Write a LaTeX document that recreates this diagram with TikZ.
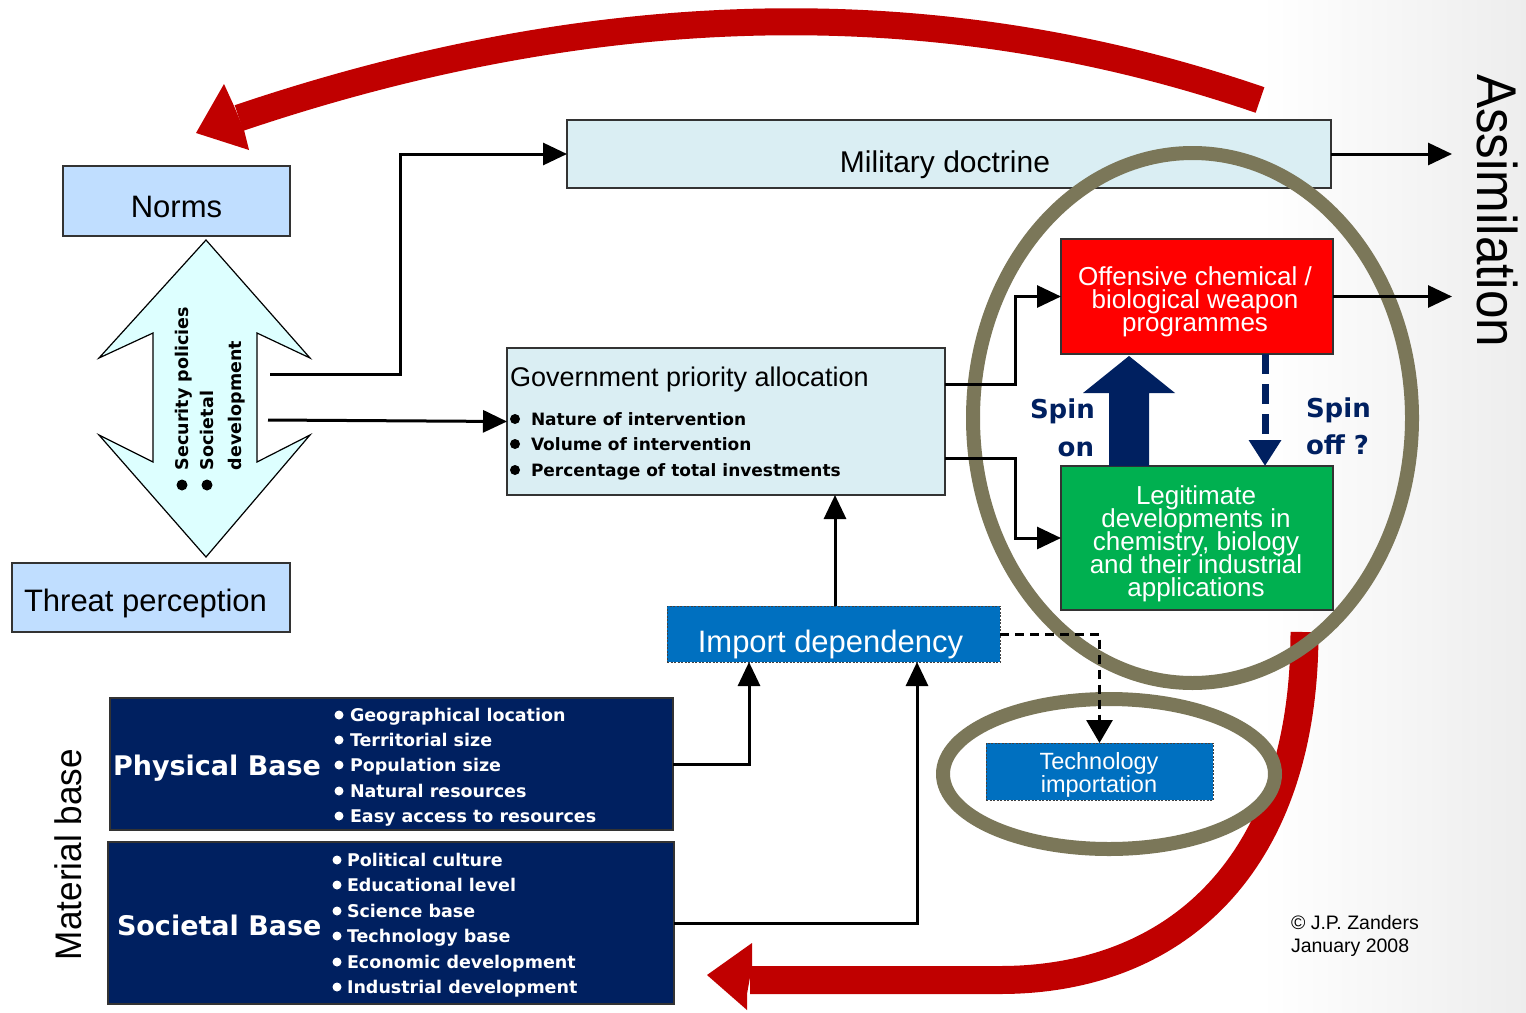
\documentclass[tikz,border=0pt]{standalone}
\usepackage{fontspec}
\setmainfont{Liberation Sans}
\newfontfamily\heavyfont{DejaVu Sans}
\usetikzlibrary{arrows.meta,calc}
\definecolor{redband}{HTML}{C00000}
\definecolor{navyc}{HTML}{002060}
\definecolor{impc}{HTML}{0070C0}
\definecolor{normc}{HTML}{C0DEFF}
\definecolor{milc}{HTML}{DAEEF3}
\definecolor{dblc}{HTML}{DDFFFF}
\definecolor{redc}{HTML}{FF0000}
\definecolor{greenc}{HTML}{00B050}
\definecolor{ellc}{HTML}{7B7759}
\newcommand\fsz[2]{\fontsize{#1}{#2}\selectfont}
\newcommand\tightl{\lineskiplimit=-50pt\relax}
\begin{document}
\begin{tikzpicture}[x=1pt,y=-1pt,
  boxbase/.style={draw=black!80, line width=1.2pt, inner sep=0pt, outer sep=0pt},
  dotbox/.style={draw=black!75, line width=1pt, dash pattern=on 2pt off 1.5pt, inner sep=0pt, outer sep=0pt, fill=impc},
  conn/.style={draw=black, line width=3pt},
  tipb/.style={-{Triangle[length=24pt,width=22pt]}},
  lbl/.style={inner sep=0pt, outer sep=0pt},
  heavy/.style={lbl, font=\heavyfont\bfseries},
  ell/.style={draw=ellc, line width=14pt}
]
\useasboundingbox (0,0) rectangle (1526,1012);
\fill[white] (0,0) rectangle (1526,1012);
\shade[left color=white, right color=black!7] (1260,0) rectangle (1526,1012);

% red curved arrows
\draw[redband, line width=27pt] (1260,100) .. controls (940,-10) and (600,-4) .. (239,118);
\fill[redband] (224,84) -- (196,133) -- (249,150) -- (244,130) -- (234,106) -- cycle;
\draw[redband, line width=28pt] (1304.5,632) .. controls (1304.5,860) and (1180,980) .. (1000,980) -- (750,980);
\fill[redband] (752,943) -- (707,975) -- (747,1010) -- (747,994) -- (752,966) -- cycle;

% double arrow
\draw[black, line width=1.2pt, fill=dblc] (206,240) -- (310,358) -- (257,333) -- (257,462) -- (310,435) -- (206,557) -- (99,435) -- (153,462) -- (153,333) -- (99,358) -- cycle;
\fill (182,485) circle (5.5pt);
\fill (207,485) circle (5.5pt);
\node[heavy, rotate=90, anchor=base west] (tsec) at (188,470) {\fsz{17.5}{17.5}Security policies};
\node[heavy, rotate=90, anchor=base west] (tsoc) at (213,470) {\fsz{17.5}{17.5}Societal};
\node[heavy, rotate=90, anchor=base west] (tdev) at (241,470) {\fsz{17.5}{17.5}development};
\coordinate (dA) at (270,374);
\coordinate (dB) at (268,420);

% boxes
\node[boxbase, fill=normc, minimum width=227pt, minimum height=70pt] (norms) at (176.5,201) {};
\node[lbl, anchor=base] (tnorms) at (176.5,217) {\fsz{31}{31}Norms};
\node[boxbase, fill=normc, minimum width=278pt, minimum height=69pt] (threat) at (151,597.5) {};
\node[lbl, anchor=base west] (tthreat) at (24,611) {\fsz{31}{31}Threat perception};

\node[boxbase, fill=milc, minimum width=764pt, minimum height=68pt] (mil) at (949,154) {};
\node[lbl, anchor=base] (tmil) at (945,172) {\fsz{30}{30}Military doctrine};

\node[boxbase, fill=milc, minimum width=438pt, minimum height=147pt] (gov) at (726,421.5) {};
\node[lbl, anchor=base west] (tgov) at (510,386) {\fsz{27}{27}Government priority allocation};
\foreach \yy/\tx [count=\i] in {425/Nature of intervention,450/Volume of intervention,476/Percentage of total investments}{
  \fill (515,\yy-6) circle (5pt);
  \node[heavy, anchor=base west] (gi\i) at (531,\yy) {\fsz{17}{17}\tx};
}

\node[boxbase, fill=redc, minimum width=272pt, minimum height=115pt] (red) at (1197,296.5) {};
\node[lbl, align=center, text=white, font={\fsz{26}{23}\tightl}] (tred) at (1195,302) {Offensive chemical /\\biological weapon\\programmes};
\node[boxbase, fill=greenc, minimum width=272pt, minimum height=144pt] (green) at (1197,538) {};
\node[lbl, align=center, text=white, font={\fsz{26}{23}\tightl}] (tgreen) at (1196,543.5) {Legitimate\\developments in\\chemistry, biology\\and their industrial\\applications};

\node[dotbox, minimum width=333pt, minimum height=56pt] (imp) at (833.5,634) {};
\node[lbl, anchor=base, text=white] (timp) at (830.5,652) {\fsz{31}{31}Import dependency};
\node[dotbox, minimum width=227pt, minimum height=57pt] (tech) at (1099.5,771.5) {};
\node[lbl, align=center, text=white, font={\fsz{23.5}{23}\tightl}] (ttech) at (1099,775) {Technology\\importation};

\node[boxbase, fill=navyc, minimum width=563pt, minimum height=132pt] (phys) at (391.5,764) {};
\node[heavy, anchor=base west, text=white] (tphys) at (113,775) {\fsz{27}{27}Physical Base};
\foreach \yy/\tx [count=\i] in {721/Geographical location,746/Territorial size,771/Population size,797/Natural resources,822/Easy access to resources}{
  \fill[white] (339,\yy-6) circle (4.5pt);
  \node[heavy, anchor=base west, text=white] (pi\i) at (350,\yy) {\fsz{17.5}{17.5}\tx};
}
\node[boxbase, fill=navyc, minimum width=566pt, minimum height=162pt] (soc) at (391,923) {};
\node[heavy, anchor=base west, text=white] (tsocb) at (117,935) {\fsz{27}{27}Societal Base};
\foreach \yy/\tx [count=\i] in {866/Political culture,891/Educational level,917/Science base,942/Technology base,968/Economic development,993/Industrial development}{
  \fill[white] (337,\yy-6) circle (4.5pt);
  \node[heavy, anchor=base west, text=white] (si\i) at (347,\yy) {\fsz{17.5}{17.5}\tx};
}

% side labels
\node[lbl, rotate=90, anchor=base west] (tmat) at (81,960) {\scalebox{0.95}[1]{\fsz{37}{37}Material base}};
\node[lbl, rotate=-90, anchor=base west] (tass) at (1477,74) {\scalebox{0.915}[1]{\fsz{56}{56}Assimilation}};
\node[lbl, anchor=base west] (tcop1) at (1291,929) {\fsz{19.5}{19.5}\textcopyright{} J.P. Zanders};
\node[lbl, anchor=base west] (tcop2) at (1291,952) {\fsz{19.5}{19.5}January 2008};
\coordinate (asA) at (1452,154);
\coordinate (asB) at (1452,296.5);

% ellipses
\draw[ell] (1192.5,418) ellipse [x radius=219.5pt, y radius=265pt];
\draw[ell] (1109,774) ellipse [x radius=166pt, y radius=75pt];

% connectors
\draw[conn, tipb] (dA) -- (400,374) |- (mil.west);
\draw[conn, tipb] (dB) -- (gov.west);
\draw[conn, tipb] (mil.east) -- (asA);
\draw[conn, tipb] (red.east) -- (asB);
\draw[conn, tipb] ([yshift=37.5pt]gov.east) -- ++(70,0) |- (red.west);
\draw[conn, tipb] ([yshift=-36.5pt]gov.east) -- ++(70,0) |- (green.west);
\draw[conn, tipb] ([xshift=1.5pt]imp.north) -- ([xshift=1.5pt]imp.north |- gov.south);
\draw[conn, tipb] (phys.east) -| ([xshift=-84.5pt]imp.south);
\draw[conn, tipb] (soc.east) -| ([xshift=83.5pt]imp.south);
\draw[conn, dash pattern=on 9pt off 6pt, -{Triangle[length=23pt,width=26pt]}] (imp.east) -| (tech.north);

% spin on / spin off
\fill[navyc] ([xshift=-88pt]green.north) -- (1109,393) -- (1083,393) -- (1129,356) -- (1175,393) -- (1149,393) -- ([xshift=-48pt]green.north) -- cycle;
\draw[navyc, line width=7pt, dash pattern=on 20pt off 10pt, -{Triangle[length=26pt,width=31pt]}] ([xshift=68pt]red.south) -- ([xshift=68pt]green.north);
\node[heavy, anchor=base west, text=navyc] (tspin1) at (1030,418) {\fsz{26}{26}Spin};
\node[heavy, anchor=base east, text=navyc] (ton) at (1094,456) {\fsz{26}{26}on};
\node[heavy, anchor=base west, text=navyc] (tspin2) at (1306,417) {\fsz{26}{26}Spin};
\node[heavy, anchor=base west, text=navyc] (toff) at (1306,454) {\fsz{26}{26}off ?};
\end{tikzpicture}
\end{document}
